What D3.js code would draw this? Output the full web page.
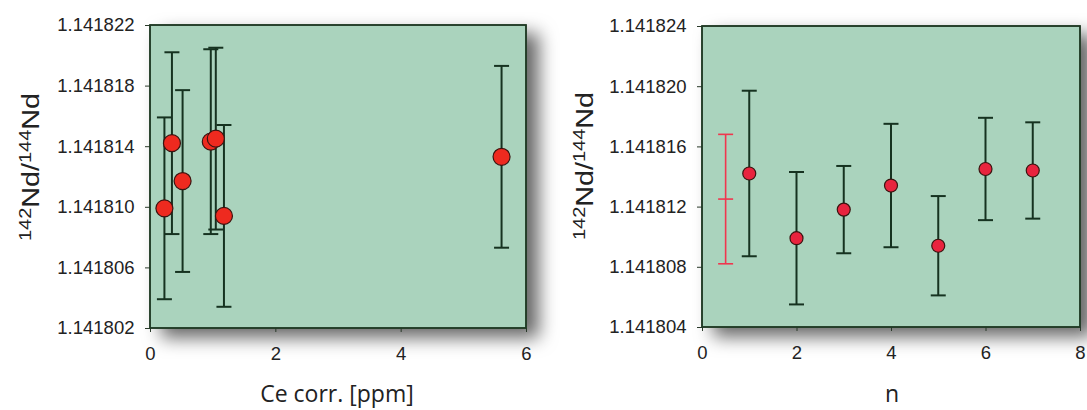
<!DOCTYPE html>
<html>
<head>
<meta charset="utf-8">
<script src="https://cdn.jsdelivr.net/npm/d3@7"></script>
<style>
  body { margin: 0; background: #fff; }
  .tick text { font-family: "Liberation Sans", Arial, sans-serif; font-size: 18.5px; fill: #222; }
  .tick line { stroke: #2a3a2a; }
  .axisTitle { font-family: "Open Sans", "Noto Sans", sans-serif; font-size: 23px; fill: #222; }
  .yTitle { font-family: "Liberation Sans", Arial, sans-serif; font-size: 23px; fill: #222; }
</style>
</head>
<body>
<script>
//data - left panel (vs Ce correction)
var ceCorr = [0.23, 0.35, 0.52, 0.97, 1.05, 1.18, 5.61];
var ceRatio = [1.1418099, 1.1418142, 1.1418117, 1.1418143, 1.1418145, 1.1418094, 1.1418133];
var ceErr = [0.0000060, 0.0000060, 0.0000060, 0.0000061, 0.0000060, 0.0000060, 0.0000060];
var ceXTicks = [0, 2, 4, 6];
var ceYTicks = [1.141802, 1.141806, 1.141810, 1.141814, 1.141818, 1.141822];

//data - right panel (vs run number n)
var runN = [1, 2, 3, 4, 5, 6, 7];
var runRatio = [1.1418142, 1.1418099, 1.1418118, 1.1418134, 1.1418094, 1.1418145, 1.1418144];
var runErr = [0.0000055, 0.0000044, 0.0000029, 0.0000041, 0.0000033, 0.0000034, 0.0000032];
var meanX = [0.5];
var meanRatio = [1.1418125];
var meanErr = [0.0000043];
var runXTicks = [0, 2, 4, 6, 8];
var runYTicks = [1.141804, 1.141808, 1.141812, 1.141816, 1.141820, 1.141824];

var svg = d3.select("body").append("svg")
    .attr("width", 1087)
    .attr("height", 410);

var defs = svg.append("defs");
var shadow = defs.append("filter")
    .attr("id", "shadow")
    .attr("x", "-10%").attr("y", "-10%")
    .attr("width", "135%").attr("height", "140%");
shadow.append("feDropShadow")
    .attr("dx", 12).attr("dy", 9)
    .attr("stdDeviation", 9)
    .attr("flood-color", "#000")
    .attr("flood-opacity", 0.6);

function panel(p) {
    var x = d3.scaleLinear().domain(p.xDomain).range([p.left, p.right]);
    var y = d3.scaleLinear().domain(p.yDomain).range([p.bottom, p.top]);

    var g = svg.append("g");

    g.append("rect")
        .attr("x", p.left)
        .attr("y", p.top)
        .attr("width", p.right - p.left)
        .attr("height", p.bottom - p.top)
        .attr("fill", "#aad3bd")
        .attr("stroke", "#1f3a24")
        .attr("stroke-width", 1.5)
        .attr("filter", "url(#shadow)");

    //axes
    var ya = g.append("g")
        .attr("transform", "translate(" + p.left + ",0)")
        .call(d3.axisLeft(y).tickValues(p.yTicks).tickFormat(d3.format(".6f")).tickSize(5).tickPadding(10.5));
    ya.select(".domain").remove();

    var xa = g.append("g")
        .attr("transform", "translate(0," + p.bottom + ")")
        .call(d3.axisBottom(x).tickValues(p.xTicks).tickFormat(d3.format("d")).tickSize(4).tickPadding(15));
    xa.select(".domain").remove();
    xa.selectAll(".tick line").attr("stroke", "#777");

    //frame on top of tick lines
    g.append("rect")
        .attr("x", p.left)
        .attr("y", p.top)
        .attr("width", p.right - p.left)
        .attr("height", p.bottom - p.top)
        .attr("fill", "none")
        .attr("stroke", "#1f3a24")
        .attr("stroke-width", 1.5);

    //titles
    g.append("text")
        .attr("class", "axisTitle")
        .attr("x", p.xTitleX)
        .attr("y", 402)
        .attr("text-anchor", "middle")
        .text(p.xTitle);

    var yt = g.append("text")
        .attr("class", "yTitle")
        .attr("text-anchor", "middle")
        .attr("transform", "translate(" + p.yTitleX + "," + p.yTitleY + ") rotate(-90) scale(1.25,1)");
    yt.append("tspan").attr("font-size", "16px").attr("dy", "-8").text("142");
    yt.append("tspan").attr("dy", "8").text("Nd/");
    yt.append("tspan").attr("font-size", "16px").attr("dy", "-8").text("144");
    yt.append("tspan").attr("dy", "8").text("Nd");

    //error bars
    var pts = p.xs.map(function (d, i) { return { x: d, y: p.ys[i], e: p.errs[i] }; });
    var bars = g.append("g").attr("stroke", "#163220").attr("stroke-width", 2);
    var cap = 7.5;
    bars.selectAll(".stem").data(pts).enter().append("line")
        .attr("x1", function (d) { return x(d.x); })
        .attr("x2", function (d) { return x(d.x); })
        .attr("y1", function (d) { return y(d.y - d.e); })
        .attr("y2", function (d) { return y(d.y + d.e); });
    bars.selectAll(".capTop").data(pts).enter().append("line")
        .attr("x1", function (d) { return x(d.x) - cap; })
        .attr("x2", function (d) { return x(d.x) + cap; })
        .attr("y1", function (d) { return y(d.y + d.e); })
        .attr("y2", function (d) { return y(d.y + d.e); });
    bars.selectAll(".capBot").data(pts).enter().append("line")
        .attr("x1", function (d) { return x(d.x) - cap; })
        .attr("x2", function (d) { return x(d.x) + cap; })
        .attr("y1", function (d) { return y(d.y - d.e); })
        .attr("y2", function (d) { return y(d.y - d.e); });

    //mean bar (red, no marker)
    if (p.mean) {
        var m = p.mean;
        var mg = g.append("g").attr("stroke", "#f0364e").attr("stroke-width", 1.6);
        var mx = x(m.x);
        mg.append("line").attr("x1", mx).attr("x2", mx)
            .attr("y1", y(m.y - m.e)).attr("y2", y(m.y + m.e));
        [m.y - m.e, m.y, m.y + m.e].forEach(function (v) {
            mg.append("line").attr("x1", mx - cap).attr("x2", mx + cap)
                .attr("y1", y(v)).attr("y2", y(v));
        });
    }

    //markers
    g.append("g").selectAll("circle").data(pts).enter().append("circle")
        .attr("cx", function (d) { return x(d.x); })
        .attr("cy", function (d) { return y(d.y); })
        .attr("r", p.r)
        .attr("fill", p.fill)
        .attr("stroke", "#3a1410")
        .attr("stroke-width", 1.2);
}

panel({
    left: 150, right: 526, top: 25, bottom: 328,
    xDomain: [0, 6], yDomain: [1.141802, 1.141822],
    xTicks: ceXTicks, yTicks: ceYTicks,
    xs: ceCorr, ys: ceRatio, errs: ceErr,
    r: 8.5, fill: "#ee2a1f",
    xTitle: "Ce corr. [ppm]", xTitleX: 337,
    yTitleX: 39, yTitleY: 167
});

panel({
    left: 702, right: 1080, top: 26, bottom: 327,
    xDomain: [0, 8], yDomain: [1.141804, 1.141824],
    xTicks: runXTicks, yTicks: runYTicks,
    xs: runN, ys: runRatio, errs: runErr,
    mean: { x: meanX[0], y: meanRatio[0], e: meanErr[0] },
    r: 6.5, fill: "#e8243e",
    xTitle: "n", xTitleX: 892,
    yTitleX: 593, yTitleY: 166
});
</script>
</body>
</html>
